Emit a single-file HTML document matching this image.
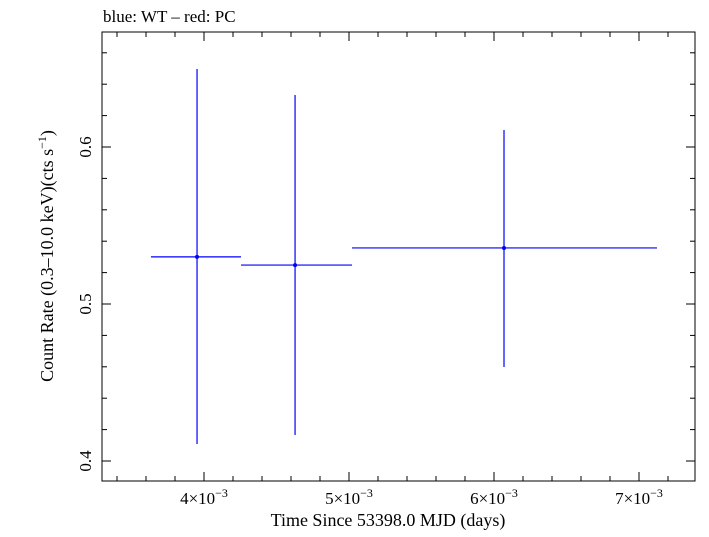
<!DOCTYPE html>
<html><head><meta charset="utf-8"><style>
body{margin:0;background:#fff;}
svg text{font-family:"Liberation Serif",serif;fill:#000;}
</style></head><body>
<svg id="chart" width="709" height="532" viewBox="0 0 709 532" xmlns="http://www.w3.org/2000/svg">
<text x="103" y="22" font-size="17">blue: WT – red: PC</text>
<rect x="102" y="32" width="593" height="449" fill="none" stroke="#000" stroke-width="1"/>
<g id="axes"></g>
<g id="series"></g>
<text x="388" y="526" font-size="18" text-anchor="middle">Time Since 53398.0 MJD (days)</text>
<text transform="translate(53,256) rotate(-90)" font-size="18" text-anchor="middle">Count Rate (0.3–10.0 keV)(cts s<tspan font-size="12" dy="-7">−1</tspan><tspan dy="7">)</tspan></text>
</svg>
<script>
const xCenters=[3.952e-3,4.628e-3,6.069e-3];
const xLo=[3.634e-3,4.255e-3,5.021e-3];
const xHi=[4.255e-3,5.021e-3,7.124e-3];
const yVals=[0.530,0.5248,0.5357];
const yLo=[0.4108,0.4166,0.4599];
const yHi=[0.6497,0.6331,0.6108];
const xTicks=[4e-3,5e-3,6e-3,7e-3];
const xTickLabels=["4","5","6","7"];
const yTicks=[0.4,0.5,0.6];
const yTickLabels=["0.4","0.5","0.6"];
const L=102,R=695,T=32,B=481;
const xs=v=>204+(v-4e-3)*145000;
const ys=v=>461-(v-0.4)*1570;
const NS="http://www.w3.org/2000/svg";
function mk(tag,attrs,parent){const e=document.createElementNS(NS,tag);for(const k in attrs)e.setAttribute(k,attrs[k]);parent.appendChild(e);return e;}
const ax=document.getElementById('axes'),sr=document.getElementById('series');
for(let i=-10;i<=60;i++){const v=Math.round(i*2)/1e4;const px=xs(v);if(px<=L||px>=R)continue;
 const major=(i%5===0);const len=major?9:5;
 let t=mk('line',{x1:px,x2:px,y1:B,y2:B-len,stroke:'#000'},ax);
 
 t=mk('line',{x1:px,x2:px,y1:T,y2:T+len,stroke:'#000'},ax);
 }
xTicks.forEach((v,i)=>{const t=mk('text',{x:xs(v),y:504,'font-size':17,'text-anchor':'middle'},ax);
 
 t.innerHTML=xTickLabels[i]+'×10<tspan font-size="12" dy="-7">−3</tspan>';});
for(let i=9;i<=33;i++){const v=i/50;const py=ys(v);if(py<=T||py>=B)continue;
 const major=(i%5===0);const len=major?9:5;
 let t=mk('line',{x1:L,x2:L+len,y1:py,y2:py,stroke:'#000'},ax);
 
 t=mk('line',{x1:R,x2:R-len,y1:py,y2:py,stroke:'#000'},ax);
 }
yTicks.forEach((v,i)=>{const t=mk('text',{transform:`translate(91,${ys(v)}) rotate(-90)`,'font-size':17,'text-anchor':'middle'},ax);
 
 t.textContent=yTickLabels[i];});
xCenters.forEach((x,i)=>{
 const g=mk('g',{},sr);
 let e=mk('line',{x1:xs(xLo[i]),x2:xs(xHi[i]),y1:ys(yVals[i]),y2:ys(yVals[i]),stroke:'#0000ff','stroke-width':1.2},g);
 
 e=mk('line',{x1:xs(x),x2:xs(x),y1:ys(yLo[i]),y2:ys(yHi[i]),stroke:'#0000ff','stroke-width':1.2},g);
 
 e=mk('circle',{cx:xs(x),cy:ys(yVals[i]),r:2,fill:'#0000ff'},g);
 
});
</script>
</body></html>
